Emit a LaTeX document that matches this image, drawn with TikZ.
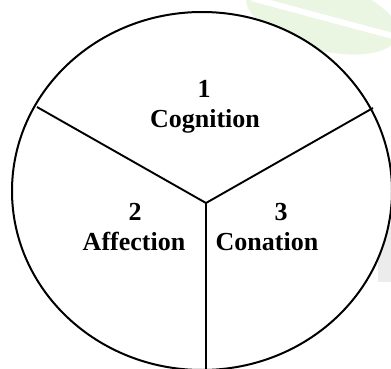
\documentclass[tikz,border=0pt]{standalone}
\usepackage{fontspec}
\setmainfont{Liberation Serif}
\definecolor{leafgreen}{RGB}{234,245,226}
\definecolor{markgray}{RGB}{236,236,236}
\tikzset{
  part/.style={font=\fontsize{26}{30}\selectfont\bfseries, anchor=base, inner sep=0pt},
  divider/.style={line width=1.9pt}
}
\begin{document}
\begin{tikzpicture}[x=1pt,y=-1pt]
    \useasboundingbox (0,0) rectangle (391,369);
    \clip (0,0) rectangle (391,369);
    % faint watermark behind the circle
    \fill[leafgreen, rotate around={-15:(322,16)}] (322,16) ellipse (78 and 34);
    \fill[white, rotate around={-15:(322,16)}] (250,14) rectangle (400,20);
    \fill[markgray] (378,225) rectangle (391,282);
    \filldraw[fill=white, line width=2pt] (202,191) ellipse (190 and 179);
    \coordinate (hub) at (206,203);
    \coordinate (rimleft) at (37,107);
    \coordinate (rimright) at (373,108);
    \coordinate (rimdown) at (206,370);
    \foreach \rim in {rimleft,rimright,rimdown} \draw[divider] (hub) -- (\rim);
    \node[part] (num1) at (204,97) {1};
    \node[part] (cognition) at (205,127) {Cognition};
    \node[part] (num2) at (135,220) {2};
    \node[part] (affection) at (134,250) {Affection};
    \node[part] (num3) at (281,220) {3};
    \node[part] (conation) at (267,250) {Conation};
  \end{tikzpicture}
\end{document}
